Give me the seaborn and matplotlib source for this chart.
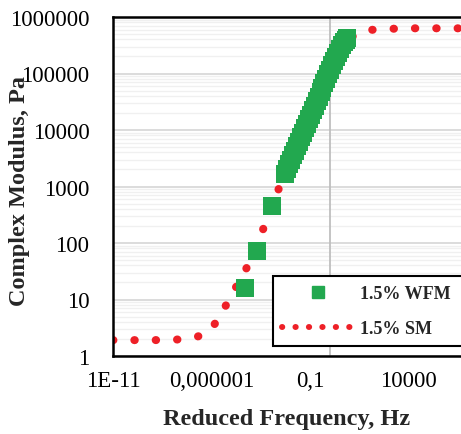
import numpy as np
import pandas as pd
import matplotlib
matplotlib.use("Agg")
import matplotlib.pyplot as plt
from matplotlib.lines import Line2D
import seaborn as sns

# 1.5% WFM measured points (reduced frequency, Hz / complex modulus, Pa)
wfm_freq = [5.0e-5, 2.04e-4, 1.17e-3,
            0.00537, 0.00676, 0.00851, 0.0107, 0.0135, 0.0170, 0.0214, 0.0269,
            0.0339, 0.0427, 0.0537, 0.0676, 0.0851, 0.107, 0.135, 0.170,
            0.214, 0.269, 0.339, 0.427, 0.537, 0.676, 0.851, 1.07, 1.35,
            1.70, 2.14, 2.69, 3.39, 4.27, 5.37, 6.31, 7.59]
wfm_mod = [16, 72, 452,
           1660, 2000, 2455, 2950, 3550, 4270, 5130, 6170,
           7410, 8910, 10700, 12900, 15500, 18600, 22400, 26900,
           32400, 38900, 46800, 56200, 67600, 81300, 97700, 117000, 141000,
           166000, 195000, 229000, 269000, 316000, 363000, 398000, 427000]

# 1.5% SM master curve
sm_freq = [1e-11, 1e-10, 1e-9, 1e-8, 1e-7, 3.16e-7, 1e-6, 3.16e-6, 1e-5,
           3.16e-5, 1e-4, 3.16e-4, 1e-3, 3.16e-3, 1e-2, 3.16e-2, 0.1, 0.316,
           1, 3.16, 10, 31.6, 100, 1000, 1e4, 1e5, 5e6]
sm_mod = [1.91, 1.91, 1.91, 1.93, 2.04, 2.34, 3.02, 5.62, 11.7,
          24, 50, 141, 355, 1122, 2818, 7079, 17783, 44668,
          112202, 251189, 416869, 537032, 588844, 616595, 630957, 630957, 630957]

x_ticks = [1e-11, 1e-6, 1e-1, 1e4]
x_labels = ["1E-11", "0,000001", "0,1", "10000"]
y_ticks = [1, 10, 100, 1000, 10000, 100000, 1000000]
y_labels = ["1", "10", "100", "1000", "10000", "100000", "1000000"]

green = "#22A84F"
red = "#EE2027"

sns.set_style("white")
plt.rcParams["font.family"] = ["Liberation Serif", "DejaVu Serif"]

wfm = pd.DataFrame({"freq": wfm_freq, "mod": wfm_mod})
sm = pd.DataFrame({"freq": sm_freq, "mod": sm_mod})

fig = plt.figure(figsize=(4.61, 4.35), dpi=100)
ax = fig.add_axes([113 / 461, 1 - 357 / 435, 348 / 461, 339 / 435])
ax.set_xscale("log")
ax.set_yscale("log")

# gridlines: major + light minor horizontals, one vertical line at 1 Hz
ax.set_yticks([v * m for v in [1, 10, 100, 1000, 10000, 100000] for m in range(2, 10)], minor=True)
ax.grid(axis="y", which="major", color="#d9d9d9", lw=1.3, zorder=0)
ax.grid(axis="y", which="minor", color="#f0f0f0", lw=1.0, zorder=0)
ax.axvline(1, color="#bfbfbf", lw=1.3, zorder=1)

sns.lineplot(data=sm, x="freq", y="mod", ax=ax, color=red,
             sort=False, estimator=None, zorder=2)
sm_line = ax.lines[-1]
sm_line.set_linewidth(5.8)
sm_line.set_dash_capstyle("round")
sm_line.set_linestyle((0, (0.05, 2.6)))

sns.scatterplot(data=wfm, x="freq", y="mod", ax=ax, color=green, marker="s",
                s=150, edgecolor=green, linewidth=0, zorder=3)

ax.set_xlim(1e-11, 10 ** 6.66)
ax.set_ylim(1, 1e6)
ax.set_xticks(x_ticks)
ax.set_xticklabels(x_labels)
ax.set_yticks(y_ticks)
ax.set_yticklabels(y_labels)
ax.xaxis.set_minor_locator(matplotlib.ticker.NullLocator())
ax.tick_params(axis="both", which="both", length=0, labelsize=16.5, colors="black")
ax.tick_params(axis="y", pad=17)
ax.tick_params(axis="x", pad=10)

for side in ["left", "bottom", "top"]:
    ax.spines[side].set_color("black")
    ax.spines[side].set_linewidth(1.8)
ax.spines["right"].set_visible(False)

ax.set_xlabel("Reduced Frequency, Hz", fontsize=17.5, fontweight="bold", labelpad=12)
ax.set_ylabel("Complex Modulus, Pa", fontsize=17.5, fontweight="bold")
ax.yaxis.set_label_coords((30 - 113) / 348, 0.49)

leg_line = Line2D([], [], color=red)
leg_line.set_linewidth(4.3)
leg_line.set_dash_capstyle("round")
leg_line.set_linestyle((0, (0.05, 2.2)))
handles = [
    Line2D([], [], marker="s", ls="none", color=green, markersize=9),
    leg_line,
]
x0 = (273 - 113) / 348
y1 = 1 - (277 - 18) / 339
y0 = 1 - (347 - 18) / 339
leg = ax.legend(handles, ["1.5% WFM", "1.5% SM"], loc="upper left",
                bbox_to_anchor=(x0, y0, 1.08 - x0, y1 - y0), mode="expand",
                prop={"weight": "bold", "size": 13}, handlelength=4.0,
                handletextpad=0.3, borderpad=0.5, labelspacing=1.0,
                frameon=True, fancybox=False, framealpha=1, borderaxespad=0)
leg.get_frame().set_edgecolor("black")
leg.get_frame().set_linewidth(1.5)
leg.set_zorder(5)

fig.savefig("out.png", dpi=100)
